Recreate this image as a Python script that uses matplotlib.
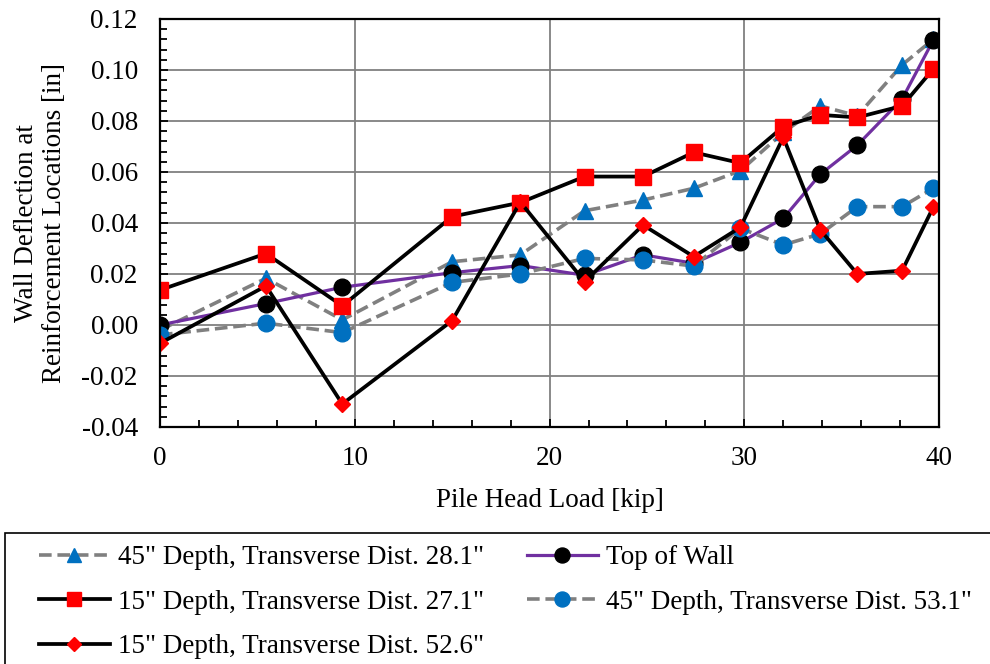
import matplotlib
matplotlib.use("Agg")
import matplotlib.pyplot as plt
from matplotlib.patches import Rectangle
from matplotlib.ticker import MultipleLocator, FormatStrFormatter

plt.rcParams['font.family'] = ['Liberation Serif', 'DejaVu Serif']
plt.rcParams['axes.unicode_minus'] = False

# pile head load [kip]
load = [0.0, 5.44, 9.36, 15.0, 18.5, 21.8, 24.8, 27.4, 29.8, 32.0, 33.9, 35.8, 38.1, 39.7]

# wall deflection [in]
d45_281 = [-0.002, 0.0183, 0.002, 0.0248, 0.0275, 0.0448, 0.049, 0.0536, 0.0605,
           0.0755, 0.0859, 0.082, 0.102, 0.112]
top_wall = [0.000, 0.0084, 0.0148, 0.0205, 0.0233, 0.0195, 0.0275, 0.0242, 0.0324,
            0.0418, 0.0591, 0.0705, 0.0886, 0.1117]
d15_271 = [0.0137, 0.028, 0.0075, 0.0425, 0.048, 0.0582, 0.0582, 0.0677, 0.0635,
           0.0778, 0.0824, 0.0814, 0.0859, 0.1004]
d45_531 = [-0.0039, 0.0007, -0.003, 0.0167, 0.020, 0.0261, 0.0255, 0.0231, 0.0379,
           0.0314, 0.0357, 0.0464, 0.0464, 0.0536]
d15_526 = [-0.0072, 0.0153, -0.031, 0.0017, 0.0482, 0.017, 0.0392, 0.0268, 0.0383,
           0.0736, 0.0373, 0.020, 0.0213, 0.0462]

labels = ['45" Depth, Transverse Dist. 28.1"', 'Top of Wall',
          '15" Depth, Transverse Dist. 27.1"', '45" Depth, Transverse Dist. 53.1"',
          '15" Depth, Transverse Dist. 52.6"']

BLUE = '#0070C0'
RED = '#FF0000'
PURPLE = '#7030A0'
GRAY = '#808080'
FS = 19.5

fig = plt.figure(figsize=(9.9, 6.64), dpi=100)
ax = fig.add_axes([0.1616, 0.357, 0.787, 0.6144])

dash = (3.5, 1.6)
h1, = ax.plot(load, d45_281, color=GRAY, lw=2.6, dashes=dash, marker='^', ms=11,
              mfc=BLUE, mec=BLUE, label=labels[0])
h2, = ax.plot(load, top_wall, color=PURPLE, lw=2.3, marker='o', ms=12,
              mfc='black', mec='black', label=labels[1])
h3, = ax.plot(load, d15_271, color='black', lw=2.7, marker='s', ms=11.5,
              mfc=RED, mec=RED, label=labels[2])
h4, = ax.plot(load, d45_531, color=GRAY, lw=2.6, dashes=dash, marker='o', ms=12,
              mfc=BLUE, mec=BLUE, label=labels[3])
h5, = ax.plot(load, d15_526, color='black', lw=2.7, marker='D', ms=8,
              mfc=RED, mec=RED, label=labels[4])

ax.set_xlim(0, 40)
ax.set_ylim(-0.04, 0.12)
ax.xaxis.set_major_locator(MultipleLocator(10))
ax.xaxis.set_minor_locator(MultipleLocator(2))
ax.yaxis.set_major_locator(MultipleLocator(0.02))
ax.yaxis.set_minor_locator(MultipleLocator(0.004))
ax.yaxis.set_major_formatter(FormatStrFormatter('%.2f'))
ax.grid(True, which='major', color=GRAY, lw=1.3)
ax.set_axisbelow(True)
ax.tick_params(which='both', direction='in', top=False, right=False,
               labelsize=FS, width=1.3)
ax.tick_params(axis='y', pad=16)
ax.tick_params(axis='x', pad=14)
ax.tick_params(which='major', length=6)
ax.tick_params(which='minor', length=5)
for s in ax.spines.values():
    s.set_linewidth(1.6)
    s.set_color('black')

ax.set_xlabel('Pile Head Load [kip]', fontsize=FS, labelpad=12)
ax.set_ylabel('Wall Deflection at\nReinforcement Locations [in]', fontsize=FS,
              labelpad=10, linespacing=1.2)

# legend frame running off the figure edge
fig.patches.append(Rectangle((5 / 990, -0.05), 1.0, 1 - 533 / 664 + 0.05,
                             transform=fig.transFigure, fill=False,
                             ec='black', lw=1.2))
fig.legend([h1, h3, h5, h2, h4], [labels[0], labels[2], labels[4], labels[1], labels[3]],
           loc='upper left', bbox_to_anchor=(31 / 990, 1 - 537 / 664),
           ncol=2, frameon=False, fontsize=FS, handlelength=2.6,
           handletextpad=0.3, columnspacing=1.6, labelspacing=0.72,
           borderaxespad=0, borderpad=0.3, markerscale=0.9)

fig.savefig('out.png', dpi=100)
